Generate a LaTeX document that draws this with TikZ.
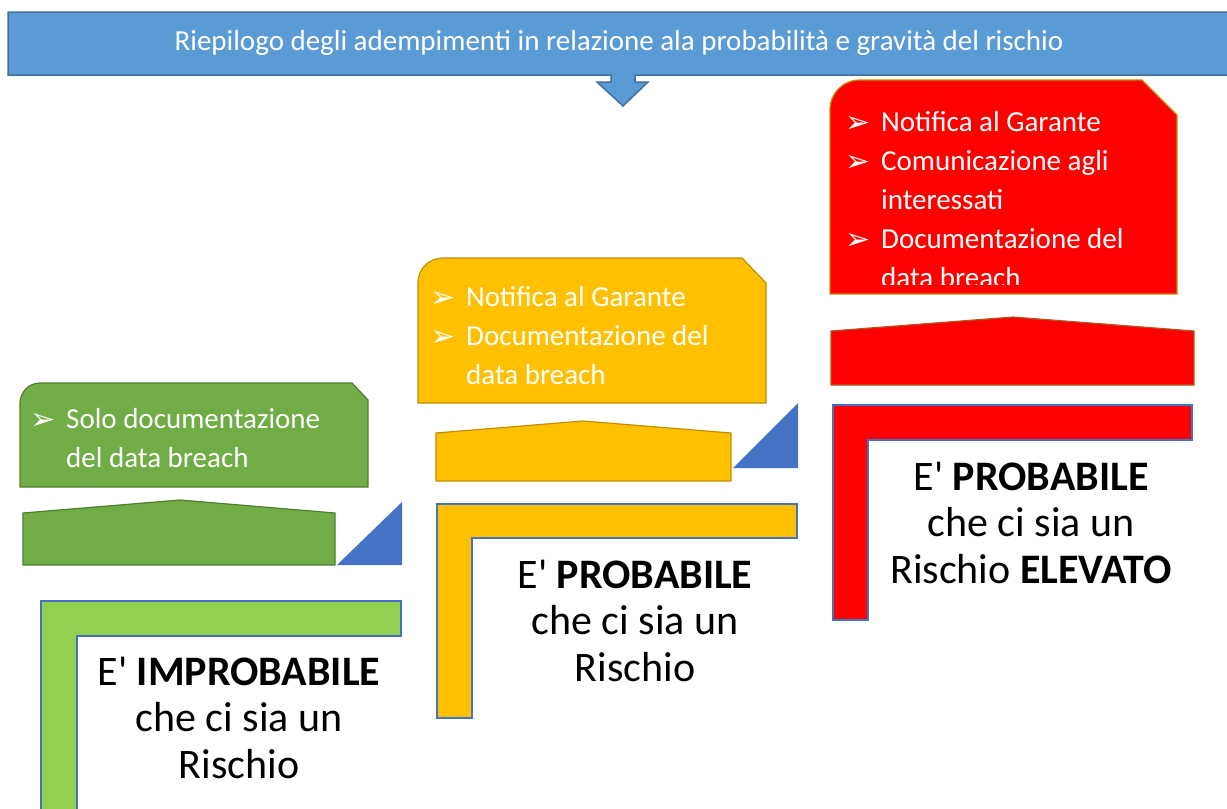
\documentclass[tikz,border=0pt]{standalone}
\usepackage{fontspec}
\setmainfont{Carlito}
\newfontfamily\dejavu{DejaVu Sans}
\usepackage{array}
\definecolor{banner}{HTML}{5B9BD5}
\definecolor{bannerline}{HTML}{41719C}
\definecolor{grn}{HTML}{70AD47}
\definecolor{grnline}{HTML}{507E32}
\definecolor{lgrn}{HTML}{92D050}
\definecolor{ylw}{HTML}{FFC000}
\definecolor{ylwline}{HTML}{BF9000}
\definecolor{rd}{HTML}{FF0000}
\definecolor{rdline}{HTML}{AE5A21}
\definecolor{blu}{HTML}{4472C4}
\newcommand{\bul}{{\dejavu\fontsize{30}{39}\selectfont\raisebox{-1pt}{➢}}}
\newcommand{\Eap}{E\textquotesingle}
\tikzset{
  bullets/.style={anchor=base west, inner sep=0pt, text=white, font=\fontsize{29}{39}\selectfont},
  bigtext/.style={anchor=base, inner sep=0pt, align=center, font=\fontsize{42}{46.5}\selectfont},
  lshape/.style={draw=blu, line width=1.5pt},
  tri/.style={fill=blu},
}
\begin{document}
\begin{tikzpicture}[x=1pt,y=-1pt]
\useasboundingbox (0,0) rectangle (1227,809);
% banner with down arrow
\draw[fill=banner, draw=bannerline, line width=1.5pt]
  (8,12) -- (1240,12) -- (1240,75) -- (635,75) -- (635,82) -- (648,82) -- (623,106)
  -- (597,82) -- (611,82) -- (611,75) -- (8,75) -- cycle;
\node[text=white, font=\fontsize{29}{33}\selectfont] (title) at (619,43)
  {Riepilogo degli adempimenti in relazione ala probabilità e gravità del rischio};

% ---------- green ----------
\draw[fill=grn, draw=grnline, line width=1.2pt]
  (20,487) -- (20,403) .. controls (20,392) and (29,383) .. (40,383) -- (352,383) -- (368,400) -- (368,487) -- cycle;
\node[bullets] (gtext) at (30,428)
  {\begin{tabular}[t]{@{}p{36pt}@{}l@{}}\bul & Solo documentazione\\ & del data breach\end{tabular}};
\draw[fill=grn, draw=grnline, line width=1.2pt]
  (23,565) -- (23,513) -- (180,500) -- (335,513) -- (335,565) -- cycle;
\fill[tri] (337,565) -- (402,565) -- (402,502) -- cycle;
\draw[lshape, fill=lgrn]
  (41,815) -- (41,601) -- (401,601) -- (401,636) -- (77,636) -- (77,815) -- cycle;
\node[bigtext] (glabel) at (239,778)
  {\Eap{} \textbf{IMPROBABILE}\\ che ci sia un\\ Rischio};

% ---------- yellow ----------
\draw[fill=ylw, draw=ylwline, line width=1.2pt]
  (418,403) -- (418,283) .. controls (418,269) and (429,258) .. (443,258) -- (742,258) -- (766,283) -- (766,403) -- cycle;
\node[bullets] (ytext) at (430,306)
  {\begin{tabular}[t]{@{}p{36pt}@{}l@{}}\bul & Notifica al Garante\\ \bul & Documentazione del\\ & data breach\end{tabular}};
\draw[fill=ylw, draw=ylwline, line width=1.2pt]
  (436,481) -- (436,433) -- (583,421) -- (731,433) -- (731,481) -- cycle;
\fill[tri] (733,468) -- (798,468) -- (798,403) -- cycle;
\draw[lshape, fill=ylw]
  (437,718) -- (437,504) -- (797,504) -- (797,538) -- (472,538) -- (472,718) -- cycle;
\node[bigtext] (ylabel) at (635,681)
  {\Eap{} \textbf{PROBABILE}\\ che ci sia un\\ Rischio};

% ---------- red ----------
\draw[fill=rd, draw=ylwline, line width=1.2pt]
  (830,294) -- (830,110) .. controls (830,93) and (843,80) .. (860,80) -- (1142,80) -- (1177,115) -- (1177,294) -- cycle;
\begin{scope}
\clip (830,80) rectangle (1177,284);
\node[bullets] (rtext) at (845,131)
  {\begin{tabular}[t]{@{}p{36pt}@{}l@{}}\bul & Notifica al Garante\\ \bul & Comunicazione agli\\ & interessati\\ \bul & Documentazione del\\ & data breach\end{tabular}};
\end{scope}
\draw[fill=rd, draw=rdline, line width=1.2pt]
  (831,385) -- (831,331) -- (1013,317) -- (1194,331) -- (1194,385) -- cycle;
\draw[lshape, fill=rd]
  (833,620) -- (833,405) -- (1192,405) -- (1192,440) -- (868,440) -- (868,620) -- cycle;
\node[bigtext] (rlabel) at (1031,583)
  {\Eap{} \textbf{PROBABILE}\\ che ci sia un\\ Rischio \textbf{ELEVATO}};
\end{tikzpicture}
\end{document}
